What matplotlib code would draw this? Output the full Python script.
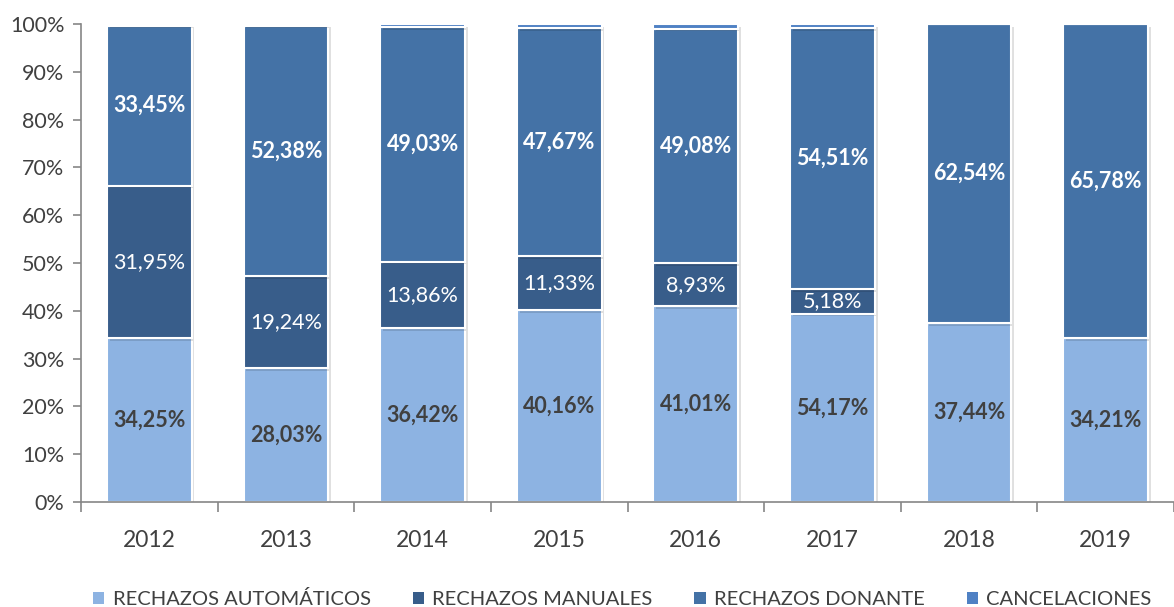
import matplotlib
matplotlib.use("Agg")
import matplotlib.pyplot as plt
import numpy as np
from matplotlib import patheffects as pe

plt.rcParams['font.family'] = ['Lato', 'DejaVu Sans']

years = ['2012', '2013', '2014', '2015', '2016', '2017', '2018', '2019']
series_names = ['RECHAZOS AUTOMÁTICOS', 'RECHAZOS MANUALES', 'RECHAZOS DONANTE', 'CANCELACIONES']

automaticos = [34.25, 28.03, 36.42, 40.16, 41.01, 39.40, 37.44, 34.21]
manuales = [31.95, 19.24, 13.86, 11.33, 8.93, 5.18, 0.0, 0.0]
donante = [33.45, 52.38, 49.03, 47.67, 49.08, 54.51, 62.54, 65.78]
cancelaciones = [0.35, 0.35, 0.69, 0.84, 0.98, 0.91, 0.02, 0.01]

# label texts as printed on the automatic-rejection segments
automaticos_labels = ['34,25%', '28,03%', '36,42%', '40,16%', '41,01%', '54,17%', '37,44%', '34,21%']

colors = ['#8DB3E2', '#385D8A', '#4472A6', '#4F81C4']

fig = plt.figure(figsize=(11.74, 6.07), dpi=100)
ax = fig.add_axes([0.069, 0.173, 0.931, 0.7875])

x = np.arange(len(years))
width = 0.62
shadow = [pe.SimplePatchShadow(offset=(2, -2), shadow_rgbFace='#000000', alpha=0.12), pe.Normal()]

bottom = np.zeros(len(years))
for vals, col, name in zip([automaticos, manuales, donante, cancelaciones], colors, series_names):
    bars = ax.bar(x, vals, width, bottom=bottom, color=col, edgecolor='white',
                  linewidth=1.5, label=name, zorder=2)
    for b in bars:
        b.set_path_effects(shadow)
    bottom = bottom + np.array(vals)

def fmt(v):
    return f'{v:.2f}'.replace('.', ',') + '%'

LABEL_FS = 15.5
for i in range(len(years)):
    a = automaticos[i]
    ax.text(x[i], a / 2, automaticos_labels[i], ha='center', va='center',
            fontsize=LABEL_FS, fontweight='bold', color='#404040', zorder=5)
    m = manuales[i]
    if m > 0:
        ax.text(x[i], a + m / 2, fmt(m), ha='center', va='center',
                fontsize=LABEL_FS, color='white', zorder=5)
    d = donante[i]
    ax.text(x[i], a + m + d / 2, fmt(d), ha='center', va='center',
            fontsize=LABEL_FS, fontweight='bold', color='white', zorder=5)

ax.set_xlim(-0.5, len(years) - 0.5)
ax.set_ylim(0, 100)
ax.set_yticks(np.arange(0, 101, 10))
ax.set_yticklabels([f'{v}%' for v in range(0, 101, 10)], fontsize=15.5, color='#404040')
ax.set_xticks(x)
ax.set_xticklabels(years, fontsize=16.5, color='#404040')
ax.tick_params(axis='x', which='major', length=0, pad=20)
ax.set_xticks(np.arange(-0.5, len(years) + 0.5, 1), minor=True)
ax.tick_params(axis='x', which='minor', length=7, color='#868686', width=1.2)
ax.tick_params(axis='y', length=6, color='#868686', width=1.2, pad=6)

for s in ['top', 'right']:
    ax.spines[s].set_visible(False)
for s in ['left', 'bottom']:
    ax.spines[s].set_color('#868686')
    ax.spines[s].set_linewidth(1.2)

leg = fig.legend(loc='lower center', bbox_to_anchor=(0.53, -0.032), ncol=4, frameon=False,
                 fontsize=14.5, handlelength=0.55, handleheight=0.55, handletextpad=0.4,
                 columnspacing=2.1)
for h in leg.legend_handles:
    h.set_path_effects([])
    h.set_edgecolor('none')
for t in leg.get_texts():
    t.set_color('#404040')

fig.savefig('out.png', dpi=100)
